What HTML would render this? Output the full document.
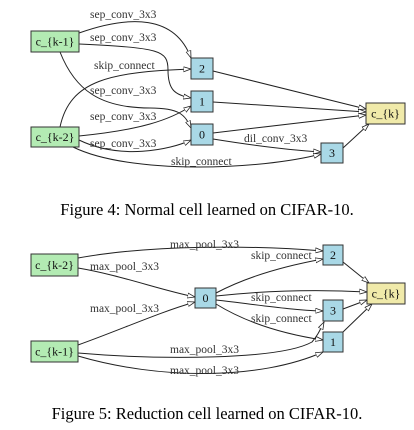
<!DOCTYPE html>
<html><head><meta charset="utf-8"><style>
html,body{margin:0;padding:0;background:#fff;}
svg{display:block;}
text{font-family:"Liberation Serif",serif;}
.l{font-size:11.5px;fill:#333;}
.n{font-size:12px;fill:#111;text-anchor:middle;}
.e{fill:none;stroke:#222;stroke-width:1;marker-end:url(#a);}
.cap{font-size:16.5px;fill:#000;text-anchor:middle;}
</style></head><body>
<svg width="414" height="430" viewBox="0 0 414 430">
<defs><marker id="a" markerWidth="8" markerHeight="6" refX="7.5" refY="3" orient="auto" markerUnits="userSpaceOnUse"><path d="M0,0.5 L7.5,3 L0,5.5 Z" fill="#fff" stroke="#222" stroke-width="0.8"/></marker></defs>
<!-- Figure 4 edges -->
<path class="e" d="M79,33 C130,15 175,15 191,58"/>
<path class="e" d="M79,44 C160,48 168,50 168,70 C168,90 175,95 191,98"/>
<path class="e" d="M60,52 C75,90 100,108 150,108 C180,108 185,115 191,128"/>
<path class="e" d="M60,127 C70,80 110,72 191,69"/>
<path class="e" d="M79,136 C140,130 170,120 191,106"/>
<path class="e" d="M79,140 C120,160 170,150 191,140"/>
<path class="e" d="M73,147 C130,175 260,170 321,154"/>
<path class="e" d="M213,139 C250,145 290,150 321,152"/>
<path class="e" d="M213,71 L366,109"/>
<path class="e" d="M213,102 L366,112"/>
<path class="e" d="M213,133 L366,115"/>
<path class="e" d="M343,148 L369,124"/>
<text class="l" x="90" y="18">sep_conv_3x3</text>
<text class="l" x="90" y="41">sep_conv_3x3</text>
<text class="l" x="94" y="69">skip_connect</text>
<text class="l" x="90" y="94">sep_conv_3x3</text>
<text class="l" x="90" y="120">sep_conv_3x3</text>
<text class="l" x="90" y="147">sep_conv_3x3</text>
<text class="l" x="171" y="165">skip_connect</text>
<text class="l" x="244" y="142">dil_conv_3x3</text>
<rect x="31" y="31" width="48" height="21" fill="#b3ebb3" stroke="#333"/>
<text class="n" x="55" y="45.5">c_{k-1}</text>
<rect x="31" y="127" width="48" height="20" fill="#b3ebb3" stroke="#333"/>
<text class="n" x="55" y="141">c_{k-2}</text>
<rect x="191" y="58" width="22" height="21" fill="#a9d8e6" stroke="#333"/><text class="n" x="202" y="72.5">2</text>
<rect x="191" y="91" width="22" height="21" fill="#a9d8e6" stroke="#333"/><text class="n" x="202" y="105.5">1</text>
<rect x="191" y="124" width="22" height="21" fill="#a9d8e6" stroke="#333"/><text class="n" x="202" y="138.5">0</text>
<rect x="321" y="143" width="22" height="20" fill="#a9d8e6" stroke="#333"/><text class="n" x="332" y="157">3</text>
<rect x="366" y="103" width="39" height="21" fill="#f0eaaa" stroke="#333"/><text class="n" x="385.5" y="117.5">c_{k}</text>
<text class="cap" x="207" y="215">Figure 4: Normal cell learned on CIFAR-10.</text>
<!-- Figure 5 edges -->
<path class="e" d="M78,258 C150,245 250,245 323,251"/>
<path class="e" d="M78,268 C120,275 160,290 195,297"/>
<path class="e" d="M78,345 C120,330 160,312 195,302"/>
<path class="e" d="M216,293 C250,275 290,265 323,259"/>
<path class="e" d="M216,296 C280,289 330,290 367,292"/>
<path class="e" d="M216,300 C260,305 290,310 323,311"/>
<path class="e" d="M216,304 C250,325 290,335 323,340"/>
<path class="e" d="M78,353 C160,360 280,360 312,342 C318,335 320,330 324,322"/>
<path class="e" d="M78,356 C160,380 260,380 323,352"/>
<path class="e" d="M343,262 L369,283"/>
<path class="e" d="M343,309 L367,300"/>
<path class="e" d="M343,332 L372,304"/>
<text class="l" x="170" y="248">max_pool_3x3</text>
<text class="l" x="251" y="259">skip_connect</text>
<text class="l" x="90" y="270">max_pool_3x3</text>
<text class="l" x="90" y="312">max_pool_3x3</text>
<text class="l" x="251" y="301">skip_connect</text>
<text class="l" x="251" y="322">skip_connect</text>
<text class="l" x="170" y="353">max_pool_3x3</text>
<text class="l" x="170" y="374">max_pool_3x3</text>
<rect x="31" y="254" width="47" height="22" fill="#b3ebb3" stroke="#333"/><text class="n" x="54.5" y="269">c_{k-2}</text>
<rect x="31" y="341" width="47" height="21" fill="#b3ebb3" stroke="#333"/><text class="n" x="54.5" y="355.5">c_{k-1}</text>
<rect x="195" y="288" width="21" height="20" fill="#a9d8e6" stroke="#333"/><text class="n" x="205.5" y="302">0</text>
<rect x="323" y="245" width="20" height="20" fill="#a9d8e6" stroke="#333"/><text class="n" x="333" y="259">2</text>
<rect x="323" y="300" width="20" height="21" fill="#a9d8e6" stroke="#333"/><text class="n" x="333" y="314.5">3</text>
<rect x="323" y="332" width="20" height="20" fill="#a9d8e6" stroke="#333"/><text class="n" x="333" y="346">1</text>
<rect x="367" y="283" width="38" height="21" fill="#f0eaaa" stroke="#333"/><text class="n" x="386" y="297.5">c_{k}</text>
<text class="cap" x="207" y="419">Figure 5: Reduction cell learned on CIFAR-10.</text>
</svg>
</body></html>
